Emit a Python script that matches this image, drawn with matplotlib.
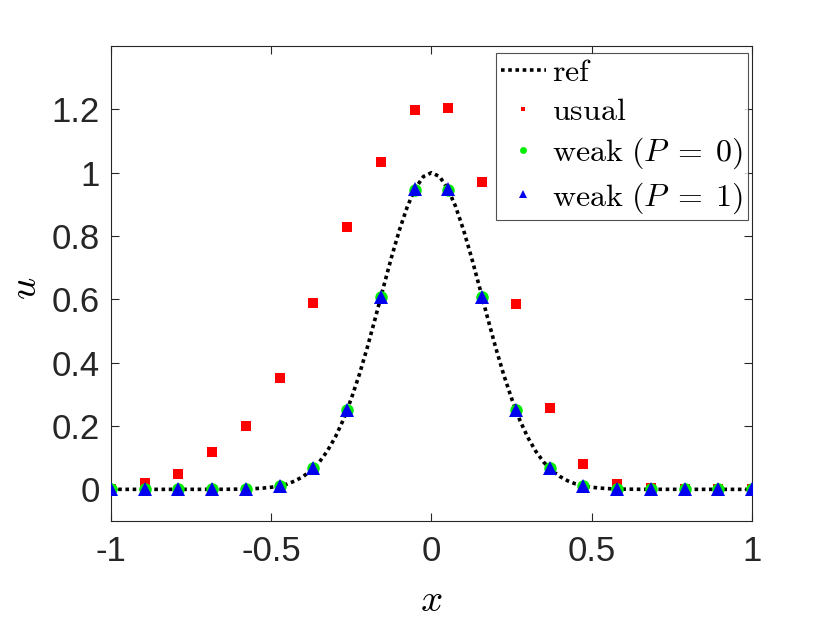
import matplotlib
matplotlib.use("Agg")
import matplotlib.pyplot as plt
import numpy as np

plt.rcParams['mathtext.fontset'] = 'cm'
plt.rcParams['font.family'] = ['Liberation Sans', 'DejaVu Sans']

# nodes where the schemes are sampled
x_nodes = [-1.0, -0.8947, -0.7895, -0.6842, -0.5789, -0.4737, -0.3684, -0.2632, -0.1579, -0.0526,
           0.0526, 0.1579, 0.2632, 0.3684, 0.4737, 0.5789, 0.6842, 0.7895, 0.8947, 1.0]
u_usual = [0.0, 0.02, 0.05, 0.117, 0.2, 0.353, 0.587, 0.83, 1.035, 1.197,
           1.203, 0.97, 0.585, 0.258, 0.08, 0.018, 0.003, 0.0, 0.0, 0.0]
u_weak0 = [0.0, 0.0, 0.0, 0.0001, 0.0012, 0.011, 0.067, 0.25, 0.607, 0.946,
           0.946, 0.607, 0.25, 0.067, 0.011, 0.0012, 0.0001, 0.0, 0.0, 0.0]
u_weak1 = [0.0, 0.0, 0.0, 0.0001, 0.0012, 0.011, 0.068, 0.252, 0.609, 0.947,
           0.947, 0.609, 0.252, 0.068, 0.011, 0.0012, 0.0001, 0.0, 0.0, 0.0]

# reference curve
x_ref = [-1.0, -0.9, -0.8, -0.7, -0.65, -0.6, -0.575, -0.55, -0.525, -0.5, -0.475, -0.45, -0.425,
         -0.4, -0.375, -0.35, -0.325, -0.3, -0.275, -0.25, -0.225, -0.2, -0.175, -0.15, -0.125,
         -0.1, -0.075, -0.05, -0.025, 0.0, 0.025, 0.05, 0.075, 0.1, 0.125, 0.15, 0.175, 0.2,
         0.225, 0.25, 0.275, 0.3, 0.325, 0.35, 0.375, 0.4, 0.425, 0.45, 0.475, 0.5, 0.525,
         0.55, 0.575, 0.6, 0.65, 0.7, 0.8, 0.9, 1.0]
u_ref = [0.0, 0.0, 0.0, 0.0001, 0.0002, 0.0007, 0.0013, 0.0024, 0.004, 0.0067, 0.011, 0.017, 0.027,
         0.041, 0.06, 0.086, 0.121, 0.165, 0.22, 0.287, 0.363, 0.449, 0.542, 0.638, 0.732,
         0.819, 0.894, 0.951, 0.988, 1.0, 0.988, 0.951, 0.894, 0.819, 0.732, 0.638, 0.542, 0.449,
         0.363, 0.287, 0.22, 0.165, 0.121, 0.086, 0.06, 0.041, 0.027, 0.017, 0.011, 0.0067, 0.004,
         0.0024, 0.0013, 0.0007, 0.0002, 0.0001, 0.0, 0.0, 0.0]

x_ticks = [-1, -0.5, 0, 0.5, 1]
x_ticklabels = ['-1', '-0.5', '0', '0.5', '1']
y_ticks = [0, 0.2, 0.4, 0.6, 0.8, 1.0, 1.2]
y_ticklabels = ['0', '0.2', '0.4', '0.6', '0.8', '1', '1.2']

fig = plt.figure(figsize=(8.3, 6.23), dpi=100)
ax = fig.add_axes([0.1337, 0.1637, 0.7723, 0.7624])

ax.plot(x_ref, u_ref, color='k', linestyle=(0, (1, 1)), linewidth=2.6,
        label=r'$\mathrm{ref}$', zorder=2)
ax.plot(x_nodes, u_usual, 's', color='red', markersize=6.5, markeredgewidth=0,
        linestyle='none', label=r'$\mathrm{usual}$', zorder=3)
ax.plot(x_nodes, u_weak0, 'o', color='#00ee00', markersize=9, markeredgewidth=0,
        linestyle='none', label=r'$\mathrm{weak}\ (P\;=\;0)$', zorder=4)
ax.plot(x_nodes, u_weak1, '^', color='#0000ee', markersize=10, markeredgewidth=0,
        linestyle='none', label=r'$\mathrm{weak}\ (P\;=\;1)$', zorder=5)

ax.set_xlim(-1, 1)
ax.set_ylim(-0.1, 1.4)
ax.set_xticks(x_ticks)
ax.set_xticklabels(x_ticklabels)
ax.set_yticks(y_ticks)
ax.set_yticklabels(y_ticklabels)
ax.tick_params(direction='in', length=6, width=0.8, labelsize=25, colors='#262626',
               top=True, right=True, pad=10)
ax.tick_params(axis='y', pad=8)
for sp in ax.spines.values():
    sp.set_color('#262626')
    sp.set_linewidth(0.8)

ax.set_xlabel(r'$x$', fontsize=28)
ax.set_ylabel(r'$u$', fontsize=28)
ax.xaxis.set_label_coords(0.5, -0.13)
ax.yaxis.set_label_coords(-0.105, 0.49)

leg = ax.legend(loc='upper right', bbox_to_anchor=(748 / 830, 1 - 53 / 623),
                bbox_transform=fig.transFigure, borderaxespad=0,
                fontsize=23, frameon=True, fancybox=False,
                edgecolor='#262626', borderpad=0.15, labelspacing=0.28, handlelength=1.4,
                handletextpad=0.2, markerscale=0.55)
leg.get_frame().set_linewidth(0.8)

fig.savefig('out.png', dpi=100)
